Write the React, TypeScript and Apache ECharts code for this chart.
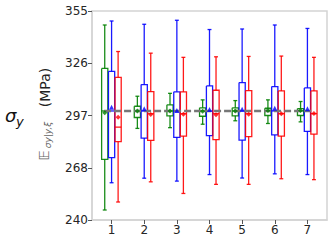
import React, { useEffect, useRef } from 'react';
import * as echarts from 'echarts';

const CATEGORIES = [1, 2, 3, 4, 5, 6, 7];
const Y_TICKS = [240, 268.75, 297.5, 326.25, 355];
const REF_VALUE = 300;
const REF_SPAN = [0.77, 7.2];

// [min, q1, median, q3, max]
const GREEN_BOX = [
  [245.5, 273.4, 300, 323.4, 347.3],
  [290.4, 296.4, 299.9, 302.6, 308.1],
  [290.8, 297.3, 300, 303.4, 309.7],
  [292.7, 297.1, 300, 301.7, 306.1],
  [294.6, 297.3, 300, 301.7, 305.7],
  [293.1, 297.5, 300, 301.5, 306.1],
  [294.0, 297.5, 300, 301.3, 305.2],
];
const GREEN_MEAN = [299, 300, 300, 299.9, 300, 300.3, 300.3];

const BLUE_BOX = [
  [260.5, 274.3, 300, 321.8, 349.5],
  [263.0, 285.1, 300, 314.5, 347.7],
  [261.4, 285.5, 300, 310.5, 349.9],
  [265.0, 286.4, 300, 313.8, 344.8],
  [263.1, 284.0, 300, 315.6, 345.1],
  [265.4, 286.8, 300, 313.4, 347.3],
  [265.0, 288.8, 300, 312.7, 345.4],
];
const BLUE_MEAN = [302, 301.2, 300.3, 300.8, 301, 301.5, 301.2];

const RED_BOX = [
  [249.9, 283.1, 291.1, 318.5, 332.7],
  [261.0, 283.8, 298.5, 310.6, 331.8],
  [254.6, 286.2, 298.5, 310.5, 329.5],
  [259.6, 284.2, 298.5, 311.4, 329.8],
  [259.6, 285.9, 298.5, 311.2, 330.0],
  [262.7, 286.2, 298.5, 311.0, 330.2],
  [262.2, 287.3, 298.5, 311.0, 329.5],
];
const RED_MEAN = [296.6, 298, 298.2, 297.9, 298.2, 298.4, 298.6];

const GROUPS = [
  { name: 'green', color: '#008000', offset: -0.21, box: GREEN_BOX, mean: GREEN_MEAN, symbol: 'diamond', size: 5 },
  { name: 'blue', color: '#0000ff', offset: 0, box: BLUE_BOX, mean: BLUE_MEAN, symbol: 'triangle', size: 5 },
  { name: 'red', color: '#ff0000', offset: 0.2, box: RED_BOX, mean: RED_MEAN, symbol: 'diamond', size: 5 },
];

const BOX_W = 0.19;
const CAP_W = 0.12;
const FONT = 'DejaVu Sans';

function boxSeries(g: any) {
  return {
    type: 'custom',
    name: g.name,
    z: 2,
    silent: true,
    emphasis: { disabled: true },
    itemStyle: { color: g.color },
    encode: { x: 0, y: [1, 2, 3, 4, 5] },
    data: CATEGORIES.map((c, i) => [c + g.offset, ...g.box[i]]),
    renderItem: (params: any, api: any) => {
      const x = api.value(0);
      const mn = api.value(1), q1 = api.value(2), md = api.value(3), q3 = api.value(4), mx = api.value(5);
      const L = api.coord([x - BOX_W / 2, q3]);
      const R = api.coord([x + BOX_W / 2, q1]);
      const c = (v: number) => api.coord([x, v]);
      const cl = api.coord([x - CAP_W / 2, mn])[0];
      const cr = api.coord([x + CAP_W / 2, mn])[0];
      const ymn = c(mn)[1], yq1 = c(q1)[1], ymd = c(md)[1], yq3 = c(q3)[1], ymx = c(mx)[1];
      const xc = c(mn)[0];
      const segs = [
        [[L[0], yq3], [R[0], yq3], [R[0], yq1], [L[0], yq1], [L[0], yq3]],
        [[L[0], ymd], [R[0], ymd]],
        [[xc, yq3], [xc, ymx]],
        [[xc, yq1], [xc, ymn]],
        [[cl, ymn], [cr, ymn]],
        [[cl, ymx], [cr, ymx]],
      ];
      return {
        type: 'group',
        children: segs.map((pts) => ({
          type: 'polyline',
          silent: true,
          shape: { points: pts },
          style: { stroke: g.color, lineWidth: 1.3, fill: 'none', opacity: 0.9 },
        })),
      };
    },
  };
}

export default function App() {
  const ref = useRef<HTMLDivElement>(null);
  useEffect(() => {
    if (!ref.current) return;
    const chart = echarts.init(ref.current, undefined, { renderer: 'svg' });
    const series: any[] = GROUPS.map(boxSeries);
    series.push({
      type: 'line',
      z: 3,
      silent: true,
      data: [[REF_SPAN[0], REF_VALUE], [REF_SPAN[1], REF_VALUE]],
      symbol: 'none',
      lineStyle: { color: '#777777', width: 2.5, type: [7, 3] },
    });
    GROUPS.forEach((g) => {
      series.push({
        type: 'scatter',
        z: 4,
        silent: true,
        symbol: g.symbol,
        symbolSize: g.size,
        itemStyle: { color: g.color },
        data: CATEGORIES.map((c, i) => [c + g.offset, g.mean[i]]),
      });
    });
    chart.setOption({
      animation: false,
      grid: { left: 92, top: 11, right: 5, bottom: 25, show: true, borderColor: '#d4d4d4', borderWidth: 1.5 },
      xAxis: {
        type: 'value',
        min: 0.4,
        max: 7.6,
        axisLine: { show: true, lineStyle: { color: '#d4d4d4', width: 1.5 } },
        splitLine: { show: false },
        axisTick: { show: true, customValues: CATEGORIES, length: 4, lineStyle: { color: '#555' } },
        axisLabel: { customValues: CATEGORIES, fontSize: 12, color: '#262626', margin: 4, fontFamily: FONT },
      },
      yAxis: {
        type: 'value',
        min: 240,
        max: 355,
        axisLine: { show: true, lineStyle: { color: '#d4d4d4', width: 1.5 } },
        splitLine: { show: false },
        axisTick: { show: true, customValues: Y_TICKS, length: 4, lineStyle: { color: '#555' } },
        axisLabel: {
          customValues: Y_TICKS,
          fontSize: 12,
          color: '#262626',
          margin: 4,
          fontFamily: FONT,
          formatter: (v: number) => String(Math.floor(v)),
        },
      },
      graphic: [
        { type: 'text', x: 5, y: 115, style: { text: 'σ', font: `italic 18px "${FONT}"`, fill: '#111', verticalAlign: 'middle' } },
        { type: 'text', x: 16, y: 121, style: { text: 'y', font: `italic 13px "${FONT}"`, fill: '#111', verticalAlign: 'middle' } },
        { type: 'text', x: 45, y: 87.5, rotation: Math.PI / 2, style: { text: '(MPa)', font: `14px "${FONT}"`, fill: '#222', align: 'center', verticalAlign: 'middle' } },
        { type: 'text', x: 43.5, y: 155.5, rotation: Math.PI / 2, style: { text: '𝔼', font: `14px "${FONT}"`, fill: '#666', align: 'center', verticalAlign: 'middle' } },
        { type: 'text', x: 48, y: 135, rotation: Math.PI / 2, style: { text: 'σy|y,ξ', font: `italic 9px "${FONT}"`, fill: '#666', align: 'center', verticalAlign: 'middle' } },
      ],
      series,
    });
    return () => chart.dispose();
  }, []);
  return <div ref={ref} style={{ width: 332, height: 245, position: 'absolute', left: 0, top: 0 }} />;
}
